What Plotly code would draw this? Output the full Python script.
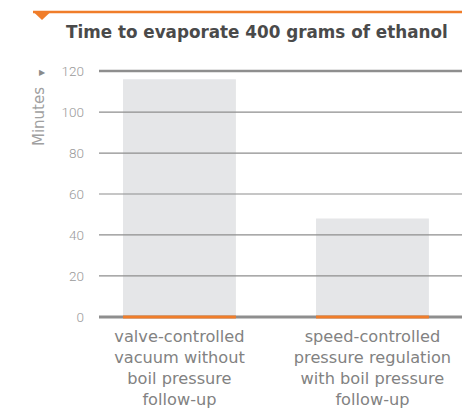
import plotly.graph_objects as go

categories = [
    "valve-controlled<br>vacuum without<br>boil pressure<br>follow-up",
    "speed-controlled<br>pressure regulation<br>with boil pressure<br>follow-up",
]
minutes = [116, 48]
y_ticks = [0, 20, 40, 60, 80, 100, 120]
title_text = "Time to evaporate 400 grams of ethanol"
y_title = "Minutes"

W, H = 462, 411
L, R, T, B = 99, 0, 67, 90
PW, PH = W - L - R, H - T - B

def px(x):
    return (x - L) / PW

def py(y):
    return (H - B - y) / PH

ORANGE = "#f07d2a"
GRID = "#8e8e8e"
BAR = "#e5e6e8"
LIGHT = "DejaVu Sans"

fig = go.Figure()
fig.add_trace(go.Bar(
    x=list(range(len(categories))), y=minutes,
    width=0.585, marker=dict(color=BAR, line=dict(width=0)),
    hoverinfo="skip",
))

shapes = []
for t in y_ticks:
    w = 1.2
    if t == y_ticks[0]:
        w = 3
    elif t == y_ticks[-1]:
        w = 2.5
    shapes.append(dict(type="line", xref="paper", yref="y", x0=0, x1=1, y0=t, y1=t,
                       line=dict(color=GRID, width=w), layer="above"))
# orange accent at bar bases
for i in range(len(categories)):
    shapes.append(dict(type="line", xref="x", yref="y", x0=i - 0.2925, x1=i + 0.2925,
                       y0=y_ticks[0], y1=y_ticks[0],
                       line=dict(color=ORANGE, width=3), layer="above"))
# top orange rule and triangle
shapes.append(dict(type="line", xref="paper", yref="paper", x0=px(33), x1=px(462),
                   y0=py(12), y1=py(12), line=dict(color=ORANGE, width=2.5)))
shapes.append(dict(type="path", xref="paper", yref="paper",
                   path=f"M {px(33)} {py(11.5)} L {px(51)} {py(11.5)} L {px(42)} {py(20)} Z",
                   fillcolor=ORANGE, line=dict(width=0)))

annotations = [
    dict(text=f"<b>{title_text}</b>", xref="paper", yref="paper", x=px(64), y=py(32),
         xanchor="left", yanchor="middle", showarrow=False,
         font=dict(family="DejaVu Sans", size=16.8, color="#4a4a4a")),
    dict(text=y_title, xref="paper", yref="paper", x=px(39), y=py(117), textangle=-90,
         xanchor="center", yanchor="middle", showarrow=False,
         font=dict(family=LIGHT, size=15, color="#a0a0a0")),
    dict(text="▶", xref="paper", yref="paper", x=px(42), y=py(73),
         xanchor="center", yanchor="middle", showarrow=False,
         font=dict(family="DejaVu Sans", size=8, color="#8a8a8a")),
]

fig.update_layout(
    width=W, height=H, margin=dict(l=L, r=R, t=T, b=B, autoexpand=False),
    paper_bgcolor="white", plot_bgcolor="white", showlegend=False,
    shapes=shapes, annotations=annotations,
    xaxis=dict(range=[-0.417, 1.464], tickmode="array", tickvals=list(range(len(categories))),
               ticktext=categories, showgrid=False, zeroline=False, showline=False,
               tickfont=dict(family=LIGHT, size=16.2, color="#828282"),
               ticks="", fixedrange=True, ticklabelstandoff=4),
    yaxis=dict(range=[-2, 122], tickmode="array", tickvals=y_ticks, showgrid=False,
               zeroline=False, showline=False, ticks="", ticklabelstandoff=14,
               tickfont=dict(family="Roboto", size=13.5, color="#9a9a9a", weight=300),
               fixedrange=True),
)
fig.write_html("out.html", config={"displayModeBar": False},
               post_script="document.body.style.margin='0';document.body.style.overflow='hidden';")
